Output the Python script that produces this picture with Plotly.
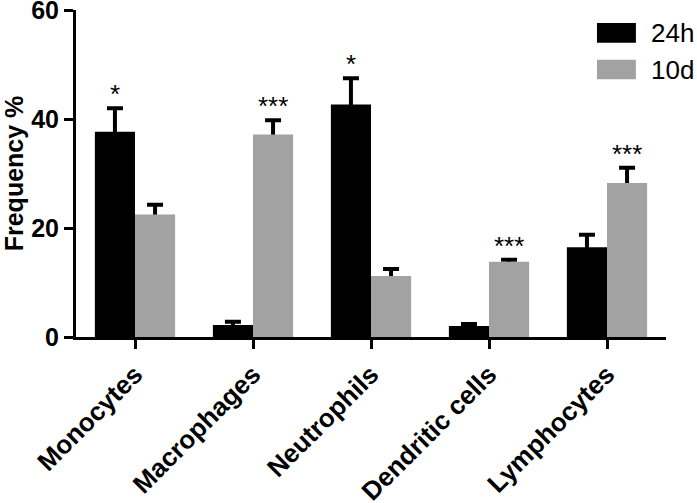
import plotly.graph_objects as go

categories = ["Monocytes", "Macrophages", "Neutrophils", "Dendritic cells", "Lymphocytes"]
vals_24h = [37.7, 2.2, 42.7, 2.0, 16.5]
err_24h = [4.3, 0.6, 4.8, 0.4, 2.3]
vals_10d = [22.5, 37.2, 11.2, 13.8, 28.3]
err_10d = [1.8, 2.6, 1.3, 0.4, 2.8]
sig_24h = ["*", "", "*", "", ""]
sig_10d = ["", "***", "", "***", "***"]
series_names = ["24h", "10d"]
y_ticks = [0, 20, 40, 60]

FONT = "Arial, 'Liberation Sans', Helvetica, sans-serif"
BLACK = "#000000"
GRAY = "#a2a2a2"
BARGAP = 0.32
bar_w = (1 - BARGAP) / 2

fig = go.Figure()
fig.add_trace(go.Bar(
    x=categories, y=vals_24h, name=series_names[0], offsetgroup="a",
    marker=dict(color=BLACK, line=dict(width=0)),
    error_y=dict(type="data", symmetric=False, array=err_24h,
                 arrayminus=[0.6] * len(err_24h), color=BLACK, thickness=4, width=8),
    showlegend=False,
))
# error bars for the 10d series (drawn below the grey bars so their base is hidden)
fig.add_trace(go.Bar(
    x=categories, y=vals_10d, offsetgroup="b",
    marker=dict(color="rgba(0,0,0,0)", line=dict(width=0)),
    error_y=dict(type="data", symmetric=False, array=err_10d,
                 arrayminus=[0.6] * len(err_10d), color=BLACK, thickness=4, width=8),
    showlegend=False, hoverinfo="skip",
))
fig.add_trace(go.Bar(
    x=categories, y=vals_10d, name=series_names[1], offsetgroup="b",
    marker=dict(color=GRAY, line=dict(width=0)),
    showlegend=False,
))

annotations = []
for i, (v, e, s) in enumerate(zip(vals_24h, err_24h, sig_24h)):
    if s:
        annotations.append(dict(x=i - bar_w / 2, y=v + e, xref="x", yref="y", text=s,
                                showarrow=False, yanchor="bottom", yshift=-3,
                                font=dict(family=FONT, size=26, color=BLACK)))
for i, (v, e, s) in enumerate(zip(vals_10d, err_10d, sig_10d)):
    if s:
        annotations.append(dict(x=i + bar_w / 2, y=v + e, xref="x", yref="y", text=s,
                                showarrow=False, yanchor="bottom", yshift=-3,
                                font=dict(family=FONT, size=26, color=BLACK)))

# custom legend
legend_colors = [BLACK, GRAY]
legend_y = [0.930, 0.818]
shapes = []
for name, col, yc in zip(series_names, legend_colors, legend_y):
    shapes.append(dict(type="rect", xref="paper", yref="paper",
                       x0=0.883, x1=0.949, y0=yc - 0.03, y1=yc + 0.03,
                       fillcolor=col, line=dict(width=0)))
    annotations.append(dict(x=0.972, y=yc, xref="paper", yref="paper", text=name,
                            showarrow=False, xanchor="left", yanchor="middle",
                            font=dict(family=FONT, size=26, color=BLACK)))

fig.update_layout(
    width=697, height=503,
    margin=dict(l=76, r=31, t=10, b=166, autoexpand=False),
    paper_bgcolor="white", plot_bgcolor="white",
    barmode="group", bargap=BARGAP, bargroupgap=0,
    annotations=annotations, shapes=shapes,
    font=dict(family=FONT, color=BLACK),
)
fig.update_xaxes(
    type="category", range=[-0.5, 4.5], automargin=False,
    showline=True, linecolor=BLACK, linewidth=3,
    ticks="outside", ticklen=9, tickwidth=3, tickcolor=BLACK,
    tickangle=-45, showgrid=False, zeroline=False, ticklabeloverflow="allow",
    tickfont=dict(family=FONT, size=26, color=BLACK, weight="bold"),
)
fig.update_yaxes(
    range=[0, 60.05], tickvals=y_ticks, automargin=False,
    showline=True, linecolor=BLACK, linewidth=3,
    ticks="outside", ticklen=9, tickwidth=3, tickcolor=BLACK,
    showgrid=False, zeroline=False, ticklabeloverflow="allow",
    tickfont=dict(family=FONT, size=25, color=BLACK, weight="bold"),
    title=dict(text="Frequency %", standoff=8,
               font=dict(family=FONT, size=25, color=BLACK, weight="bold")),
)

fig.write_html("out.html", config={"displayModeBar": False},
               post_script="document.body.style.margin='0';")
